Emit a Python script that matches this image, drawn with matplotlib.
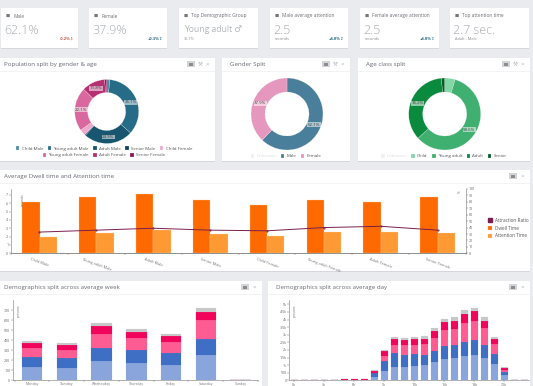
import numpy as np
from matplotlib import pyplot as plt
from matplotlib.patches import Rectangle

plt.rcParams["font.family"] = ["Open Sans", "DejaVu Sans"]

W, H = 533, 386

# kpi cards
kpi_titles = ["Male", "Female", "Top Demographic Group", "Male average attention",
              "Female average attention", "Top attention time"]
kpi_values = ["62.1%", "37.9%", "Young adult ♂", "2.5", "2.5", "2.7 sec."]
kpi_subs = ["", "", "35.1%", "seconds", "seconds", "Adult - Male"]
kpi_deltas = ["-0.2%⇩", "+0.3%⇧", "", "+4.8%⇧", "+4.8%⇧", ""]

# donuts
pop_labels = ["Child Male", "Young adult Male", "Adult Male", "Senior Male",
              "Child Female", "Young adult Female", "Adult Female", "Senior Female"]
pop_values = [1.6, 35.1, 24.9, 0.5, 3.0, 22.1, 11.8, 1.0]
gender_labels = ["Unknown", "Male", "Female"]
gender_values = [0, 62.1, 37.9]
age_labels = ["Unknown", "Child", "Young adult", "Adult", "Senior"]
age_values = [0, 4.7, 58.6, 35.2, 1.5]

# dwell / attention
dwell_cats = ["Child Male", "Young adult Male", "Adult Male", "Senior Male",
              "Child Female", "Young adult Female", "Adult Female", "Senior Female"]
dwell_time = [6.1, 6.8, 7.1, 6.45, 5.85, 6.4, 6.2, 6.75]
attention_time = [2.0, 2.45, 2.75, 2.35, 2.05, 2.5, 2.6, 2.4]
attention_ratio = [33, 36, 39, 36, 35, 40, 42, 36]

# stacked bars, bottom to top
stack_colors = ["#8aa5db", "#3f6fc4", "#ff5c94", "#f0045c", "#c8c8c8"]
week_days = ["Monday", "Tuesday", "Wednesday", "Thursday", "Friday", "Saturday", "Sunday"]
week_s1 = [136, 126, 195, 169, 156, 252, 0]
week_s2 = [92, 96, 130, 132, 116, 159, 0]
week_s3 = [97, 79, 139, 116, 105, 185, 0]
week_s4 = [43, 50, 72, 60, 60, 89, 0]
week_s5 = [19, 16, 37, 30, 27, 37, 0]

hour_labels = ["0h", "3h", "6h", "9h", "12h", "15h", "18h", "21h"]
day_s1 = [0, 0, 10, 5, 10, 30, 30, 30, 220, 614, 900, 900, 965, 1010, 1185, 1400, 1447, 1580, 1667, 1490, 1075, 330, 15, 0]
day_s2 = [0, 0, 5, 0, 5, 15, 15, 15, 250, 680, 900, 767, 789, 657, 745, 860, 853, 964, 983, 856, 679, 240, 0, 0]
day_s3 = [0, 0, 0, 0, 0, 5, 5, 5, 30, 306, 525, 679, 592, 723, 855, 1030, 1077, 1250, 1275, 1119, 636, 110, 10, 0]
day_s4 = [0, 0, 0, 0, 0, 5, 5, 5, 120, 330, 395, 284, 374, 310, 460, 525, 523, 548, 615, 435, 310, 120, 5, 0]
day_s5 = [0, 0, 0, 0, 0, 5, 5, 5, 40, 70, 130, 155, 150, 195, 195, 242, 245, 285, 240, 267, 150, 50, 0, 0]

fig = plt.figure(figsize=(W / 100, H / 100), dpi=100, facecolor="#e9ebef")
bg = fig.add_axes([0, 0, 1, 1])
bg.set_xlim(0, W)
bg.set_ylim(H, 0)
bg.axis("off")


def card(x0, y0, x1, y1):
    bg.add_patch(Rectangle((x0, y0 + 1), x1 - x0, y1 - y0, fc="#d6d8dd", ec="none"))
    bg.add_patch(Rectangle((x0, y0), x1 - x0, y1 - y0, fc="white", ec="none"))


def panel(x0, y0, x1, y1, title, title_x, head=13, wrench=True):
    card(x0, y0, x1, y1)
    bg.plot([x0, x1], [y0 + head, y0 + head], color="#eeeeee", lw=0.5)
    bg.text(title_x, y0 + head / 2, title, fontsize=4.4, color="#666a70", va="center")
    ix = x1 - 28 if wrench else x1 - 21
    bg.add_patch(Rectangle((ix, y0 + 3), 8, 6, fc="#d4d5d8", ec="none"))
    bg.add_patch(Rectangle((ix + 2, y0 + 4.5), 4, 3, fc="#8a8c90", ec="none"))
    if wrench:
        bg.text(x1 - 15, y0 + 6, "⚒", fontsize=4, color="#b8b8b8", ha="center", va="center")
    bg.text(x1 - 8, y0 + 6, "×", fontsize=4.5, color="#b8b8b8", ha="center", va="center")


def px_axes(x0, y0, x1, y1):
    return fig.add_axes([x0 / W, 1 - y1 / H, (x1 - x0) / W, (y1 - y0) / H])


def donut(cx, cy, r, hole, values, colors, min_label):
    ax = px_axes(cx - r, cy - r, cx + r, cy + r)
    wedges, _, autotexts = ax.pie(
        values, colors=colors, startangle=90, counterclock=False, radius=1,
        wedgeprops=dict(width=1 - hole / r, edgecolor="white", linewidth=0.15),
        autopct=lambda p: f"{p:.1f}%" if p > min_label else "",
        pctdistance=(1 + hole / r) / 2,
        textprops=dict(fontsize=3.2, color="#444444"),
    )
    for t in autotexts:
        if t.get_text():
            t.set_bbox(dict(fc="white", alpha=0.55, ec="none", pad=0.3))
    ax.set_xlim(-1, 1)
    ax.set_ylim(-1, 1)
    return ax, wedges


def small_legend(ax, handles, labels, x, y, ncol):
    leg = ax.legend(handles, labels, loc="center", bbox_to_anchor=(x, y), bbox_transform=bg.transData,
                    ncol=ncol, fontsize=3.2, frameon=False, handlelength=0.8, handleheight=0.9,
                    columnspacing=1.0, handletextpad=0.5, labelcolor="#555555", borderpad=0)
    return leg


def style_axis(ax):
    for side in ["top", "right"]:
        ax.spines[side].set_visible(False)
    for s in ax.spines.values():
        s.set_linewidth(0.4)
        s.set_color("#777777")
    ax.tick_params(length=1.2, width=0.3, labelsize=2.6, pad=0.7, colors="#666666")
    ax.patch.set_alpha(0)


# kpi row
card_x = [(1, 78), (89, 167), (179, 258), (270, 348), (360, 439), (450, 529)]
for i, (x0, x1) in enumerate(card_x):
    card(x0, 8, x1, 48)
    bg.text(x0 + 5, 16, "■", fontsize=3.2, color="#777777", ha="left", va="center")
    bg.text(x0 + 12, 16, kpi_titles[i], fontsize=3.5, color="#6a6e74", va="center")
    if i == 2:
        bg.text(x0 + 5, 30, kpi_values[i], fontsize=6.2, color="#b4b7ba", va="center")
    else:
        bg.text(x0 + 3, 30, kpi_values[i], fontsize=9, color="#a8abaf", va="center", fontweight="light")
    if kpi_subs[i]:
        bg.text(x0 + 5, 39.5, kpi_subs[i], fontsize=2.8, color="#888888", va="center")
    if kpi_deltas[i]:
        c = "#c8584a" if kpi_deltas[i][0] == "-" else "#2d6d8c"
        bg.text(x1 - 4, 38.5, kpi_deltas[i], fontsize=3, color=c, ha="right", va="center", fontweight="bold")

# population donut
panel(0, 58, 215, 161, "Population split by gender & age", 4.5)
pop_colors = ["#4d8ca5", "#266c86", "#17566e", "#0d4560", "#f0a8cc", "#d9689f", "#b62f73", "#8e1554"]
ax, wedges = donut(106.7, 111.5, 32, 19, pop_values, pop_colors, 5)
leg = small_legend(ax, wedges[:5], pop_labels[:5], 104, 148.5, 5)
ax.add_artist(leg)
small_legend(ax, wedges[5:], pop_labels[5:], 104, 155, 3)

# gender donut
panel(222, 58, 350, 161, "Gender Split", 230)
ax, wedges = donut(287, 114, 36, 22, gender_values, ["#f0f0f0", "#4a7f9b", "#e597bd"], 5)
small_legend(ax, wedges, gender_labels, 286, 156, 3).get_texts()[0].set_color("#dddddd")

# age donut
panel(358, 58, 530, 161, "Age class split", 366)
age_colors = ["#f0f0f0", "#7fd8a5", "#40b070", "#0a8a3c", "#035e27"]
ax, wedges = donut(444.7, 114, 36, 22, age_values, age_colors, 5)
small_legend(ax, wedges, age_labels, 444, 156, 5).get_texts()[0].set_color("#dddddd")

# dwell / attention chart
panel(0, 170, 530, 271, "Average Dwell time and Attention time", 4.5, head=13, wrench=False)
ax = px_axes(11, 189, 466, 253.3)
x = np.arange(len(dwell_cats))
b1 = ax.bar(x - 0.15, dwell_time, 0.305, color="#ff6a00", edgecolor="#ffc9a0", linewidth=0.2)
b2 = ax.bar(x + 0.155, attention_time, 0.305, color="#ff9933", edgecolor="#ffd9b0", linewidth=0.2)
ax.set_xlim(-0.5, 7.5)
ax.set_ylim(0, 7.72)
ax.set_yticks(range(8))
ax.set_xticks(np.arange(-0.5, 8, 1), labels=[])
ax.set_xticks(x, labels=dwell_cats, minor=True)
style_axis(ax)
ax.tick_params(axis="x", which="minor", length=0, labelsize=2.8, labelcolor="#777777", pad=3)
for t in ax.get_xticklabels(minor=True):
    t.set_rotation(-20)
    t.set_ha("center")
ax.text(0.025, 0.83, "seconds", transform=ax.transAxes, rotation=90, fontsize=2.4, color="#777777", ha="center", va="center")
ax2 = ax.twinx()
ax2.patch.set_alpha(0)
l1, = ax2.plot(x, attention_ratio, color="#7b1e4e", lw=0.7, marker="o", ms=0.5)
ax2.set_ylim(0, 100)
ax2.set_yticks(range(0, 101, 10))
style_axis(ax2)
ax2.spines["right"].set_visible(True)
ax2.spines["left"].set_visible(False)
ax2.text(0.987, 0.96, "%", transform=ax2.transAxes, rotation=90, fontsize=2.6, color="#777777", ha="center", va="center")
ax2.legend([l1, b1, b2], ["Attraction Ratio", "Dwell Time", "Attention Time"], loc="center left",
           bbox_to_anchor=(486, 228), bbox_transform=bg.transData, fontsize=3.3, frameon=False,
           handlelength=0.8, handleheight=0.9, handletextpad=0.6, labelspacing=0.6, labelcolor="#555555", borderpad=0)
leg_h = ax2.get_legend().legend_handles[0]
leg_h.set_marker("s")
leg_h.set_linestyle("none")
leg_h.set_markersize(3)


def stacked(ax, pos, series, width):
    bottom = np.zeros(len(pos))
    for vals, c in zip(series, stack_colors):
        ax.bar(pos, vals, width, bottom=bottom, color=c, edgecolor=c, linewidth=0.1)
        bottom += np.array(vals)


# week chart
panel(0, 281, 262, H + 4, "Demographics split across average week", 4.5, head=13, wrench=False)
ax = px_axes(13, 300, 258, 380.3)
pos = np.arange(len(week_days))
stacked(ax, pos, [week_s1, week_s2, week_s3, week_s4, week_s5], 0.59)
ax.set_xlim(-0.55, 6.5)
ax.set_ylim(0, 800)
ax.set_yticks(range(0, 701, 100))
ax.set_xticks(np.arange(-0.5, 7, 1), labels=[])
ax.set_xticks(pos, labels=week_days, minor=True)
style_axis(ax)
ax.tick_params(axis="x", which="minor", length=0, labelsize=2.5, labelcolor="#777777", pad=1)
ax.text(0.022, 0.86, "persons", transform=ax.transAxes, rotation=90, fontsize=2.4, color="#777777", ha="center", va="center")

# day chart
panel(268, 281, 530, H + 4, "Demographics split across average day", 275.5, head=13, wrench=False)
ax = px_axes(289.3, 300, 529.3, 380.3)
pos = np.arange(24)
stacked(ax, pos, [day_s1, day_s2, day_s3, day_s4, day_s5], 0.68)
ax.set_xlim(-0.5, 23.5)
ax.set_ylim(0, 5283)
ax.set_yticks(range(0, 5001, 500), labels=["0", "500", "1k", "1.5k", "2k", "2.5k", "3k", "3.5k", "4k", "4.5k", "5k"])
ax.set_xticks(range(0, 24, 3), labels=hour_labels)
style_axis(ax)
ax.tick_params(axis="x", labelsize=2.5, pad=0.4)
ax.text(0.022, 0.86, "persons", transform=ax.transAxes, rotation=90, fontsize=2.4, color="#777777", ha="center", va="center")

plt.savefig("out.png", dpi=100, facecolor=fig.get_facecolor())
